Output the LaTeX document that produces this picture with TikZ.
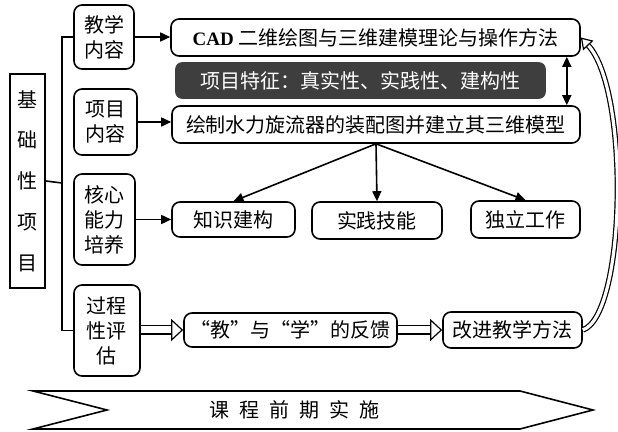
\documentclass[tikz,border=0pt]{standalone}
\usepackage{fontspec}
\newfontfamily\cjk{Noto Sans CJK SC}
\newfontfamily\lat{Liberation Serif}
\usetikzlibrary{arrows.meta, positioning, calc}
\definecolor{darkbox}{RGB}{62,62,62}
\tikzstyle{line} = [draw, line width=0.8pt, -{Triangle[length=5pt,width=4.5pt]}]
\tikzstyle{hollow} = [draw, line width=0.6pt, double, double distance=3.5pt,
  -{Triangle[open,length=6pt,width=11pt,line width=0.6pt]}]

\begin{document}
\begin{tikzpicture}[x=0.5pt,y=-0.5pt,
box/.style={draw,line width=0.8pt,rounded corners=4pt,inner sep=0pt,align=center,
  font=\cjk\fontsize{10}{12.5}\selectfont},
side/.style={box,minimum width=31pt}]
 \useasboundingbox (0,0) rectangle (618,432);
 % left column
 \node[draw,line width=0.8pt,minimum width=17.5pt,minimum height=107pt,inner sep=0pt,
  align=center,font=\cjk\fontsize{10}{20.4}\selectfont] (base) at (27.5,181) {基\\础\\性\\项\\目};
 \node[side,minimum width=30pt,minimum height=32pt] (jxnr) at (104,37) {教学\\内容};
 \node[side,minimum width=31.5pt,minimum height=33pt] (xmnr) at (105.5,122) {项目\\内容};
 \node[side,minimum width=30.5pt,minimum height=45.5pt] (hxnl) at (104.5,219.5) {核心\\能力\\培养};
 \node[side,minimum width=33pt,minimum height=45.5pt] (gcpg) at (107,330.5) {过程\\性评\\估};
 \coordinate (brk) at (62,183);
 \draw[line width=0.8pt] (jxnr.west) -| (brk) |- (gcpg.west);
 \draw[line width=0.8pt] (base.east) -- (brk);
 % right column
 \node[box,minimum width=204.5pt,minimum height=18.5pt] (cad) at (375.5,37.5)
  {{\lat\bfseries\fontsize{9.5}{12}\selectfont CAD} 二维绘图与三维建模理论与操作方法};
 \node[box,fill=darkbox,draw=darkbox,text=white,rounded corners=3pt,minimum width=184.5pt,
  minimum height=17.5pt] (tz) at (360.5,80.5) {项目特征：真实性、实践性、建构性};
 \node[box,minimum width=204pt,minimum height=18.5pt] (hz) at (376,124.5)
  {绘制水力旋流器的装配图并建立其三维模型};
 \node[box,minimum width=61.5pt,minimum height=17.5pt] (zsjg) at (233.5,219.5) {知识建构};
 \node[box,minimum width=65pt,minimum height=18.5pt] (sjjn) at (377,220.5) {实践技能};
 \node[box,minimum width=54.5pt,minimum height=18.5pt] (dlgz) at (525.5,219.5) {独立工作};
 \node[box,minimum width=106.5pt,minimum height=17pt] (fk) at (290.5,330) {“教”与“学”的反馈};
 \node[box,minimum width=69.5pt,minimum height=18pt] (gj) at (512.5,330) {改进教学方法};
 % connectors
 \path[line] (jxnr.east) -- (jxnr.east -| cad.west);
 \path[line] (xmnr.east) -- (xmnr.east -| hz.west);
 \path[line] (hxnl.east) -- (zsjg.west);
 \draw[line width=0.8pt,{Triangle[length=5pt,width=4.5pt]}-{Triangle[length=5pt,width=4.5pt]}]
  ($(cad.south east)+(-14,0)$) -- ($(hz.north east)+(-14,0)$);
 \foreach \X in {zsjg,sjjn,dlgz}
  {\path[line] (hz.south) -- (\X.north);}
 \path[hollow] (gcpg.east |- fk) -- (fk.west);
 \path[hollow] (fk) -- (gj);
 \path[hollow,double distance=1.6pt,-{Triangle[open,length=5.5pt,width=7pt,line width=0.6pt]}]
  (gj.east) .. controls (626,315) and (630,90) .. (cad.east);
 % bottom banner
 \draw[line width=0.8pt] (33,391) -- (520,391) -- (593,410) -- (520,429) -- (33,429) -- (107,410) -- cycle;
 \node[font=\cjk\fontsize{10}{12}\selectfont] (kcss) at (295,410)
  {课\hspace{5pt}程\hspace{5pt}前\hspace{5pt}期\hspace{5pt}实\hspace{5pt}施};
\end{tikzpicture}
\end{document}
